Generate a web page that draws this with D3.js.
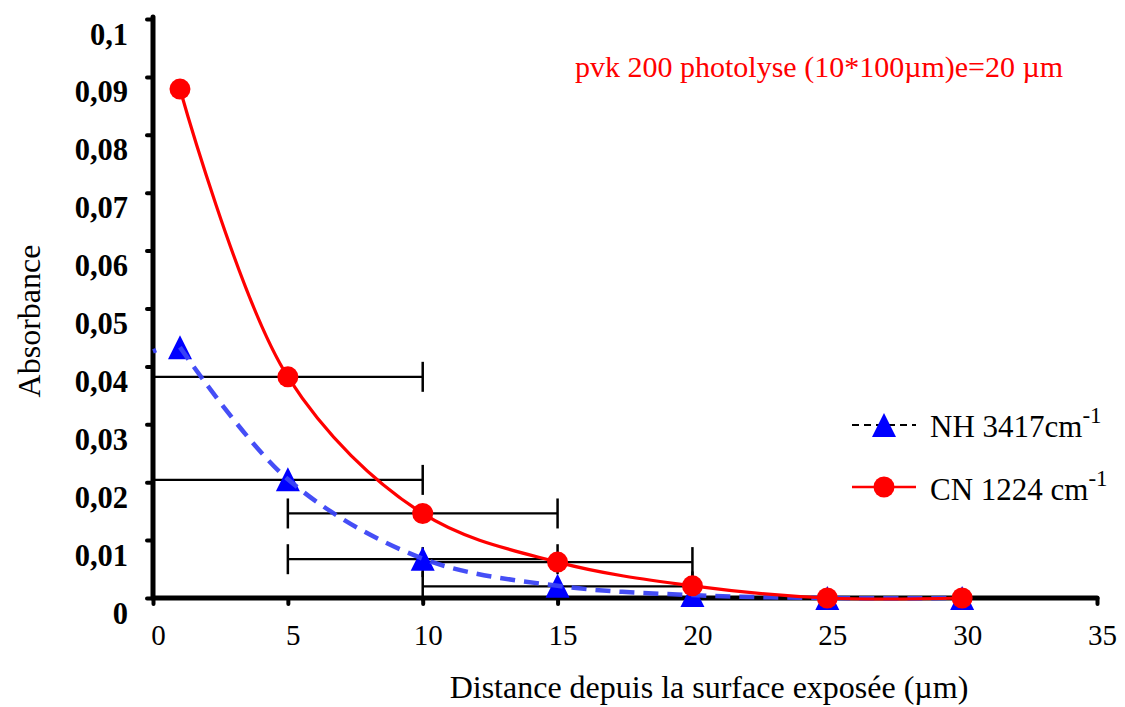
<!DOCTYPE html>
<html>
<head>
<meta charset="utf-8">
<script src="https://cdn.jsdelivr.net/npm/d3@7"></script>
<style>
  html, body { margin: 0; padding: 0; background: #fff; }
  svg { display: block; }
  svg text { font-family: "Liberation Serif", "Times New Roman", Times, "DejaVu Serif", serif; }
</style>
</head>
<body>
<svg id="chart" width="1125" height="707"></svg>
<script>
// ---------- data ----------
const cnX = [1, 5, 10, 15, 20, 25, 30];
const cnY = [0.0879, 0.0382, 0.0146, 0.0062, 0.0021, 0, 0];
const nhX = [1, 5, 10, 15, 20, 25, 30];
const nhY = [0.0433, 0.0205, 0.0068, 0.0021, 0.0005, 0, 0];
// short leading piece of the NH line at the y axis
const nhLeadX = [0, 0.12];
const nhLeadY = [0.0426, 0.0428];
// horizontal error bars
const errX = [5, 10, 15, 5, 10, 15];
const errY = [0.0382, 0.0146, 0.0062, 0.0204, 0.0067, 0.0020];
const errHalf = [5, 5, 5, 5, 5, 5];
const xTicks = [0, 5, 10, 15, 20, 25, 30, 35];
const yTicks = [0, 0.01, 0.02, 0.03, 0.04, 0.05, 0.06, 0.07, 0.08, 0.09, 0.1];
const yTickLabels = ["0", "0,01", "0,02", "0,03", "0,04", "0,05", "0,06", "0,07", "0,08", "0,09", "0,1"];
const xTitle = "Distance depuis la surface exposée (µm)";
const yTitle = "Absorbance";
const noteText = "pvk 200 photolyse (10*100µm)e=20 µm";
const legendNH = ["NH 3417cm", "-1"];
const legendCN = ["CN 1224 cm", "-1"];

// ---------- layout ----------
const svg = d3.select("#chart");
const x = d3.scaleLinear().domain([0, 35]).range([153, 1097]);
const y = d3.scaleLinear().domain([0, 0.1]).range([598, 19]);
const serif = '"Liberation Serif", "Times New Roman", Times, "DejaVu Serif", serif';

// error bars
const eb = svg.append("g").attr("stroke", "#000").attr("fill", "none");
errX.forEach((cx, i) => {
  const yy = y(errY[i]);
  const x0 = x(cx - errHalf[i]), x1 = x(cx + errHalf[i]);
  eb.append("line").attr("x1", x0).attr("x2", x1).attr("y1", yy).attr("y2", yy).attr("stroke-width", 2.2);
  [x0, x1].forEach(xx => {
    eb.append("line").attr("x1", xx).attr("x2", xx).attr("y1", yy - 15).attr("y2", yy + 15).attr("stroke-width", 2.5);
  });
});

// axes
const yAxis = d3.axisLeft(y).tickValues(yTicks).tickSize(6).tickSizeOuter(0)
  .tickFormat((d, i) => yTickLabels[i]);
const gy = svg.append("g").attr("transform", `translate(${x(0)},0)`).call(yAxis);
gy.attr("font-family", null);
gy.select(".domain").remove();
gy.selectAll(".tick line").attr("stroke", "#000").attr("stroke-width", 4).attr("stroke-linecap", "round");
gy.selectAll(".tick text").attr("x", -25).attr("dy", 0).attr("y", 25)
  .style("font-family", serif).attr("font-size", 30.5).attr("font-weight", "bold").attr("fill", "#000");

const xAxis = d3.axisBottom(x).tickValues(xTicks).tickSize(6).tickSizeOuter(0).tickFormat(d => String(d));
const gx = svg.append("g").attr("transform", `translate(0,${y(0)})`).call(xAxis);
gx.attr("font-family", null);
gx.select(".domain").remove();
gx.selectAll(".tick line").attr("stroke", "#000").attr("stroke-width", 4).attr("stroke-linecap", "round");
gx.selectAll(".tick text").attr("y", 47).attr("dy", 0).attr("dx", 5)
  .style("font-family", serif).attr("font-size", 29).attr("fill", "#000");

// axis lines
svg.append("line").attr("x1", x(0)).attr("x2", x(0)).attr("y1", y(0)).attr("y2", y(0.1) - 2)
  .attr("stroke", "#000").attr("stroke-width", 5).attr("stroke-linecap", "round");
svg.append("line").attr("x1", x(0)).attr("x2", x(35)).attr("y1", y(0)).attr("y2", y(0))
  .attr("stroke", "#000").attr("stroke-width", 5).attr("stroke-linecap", "round");

// triangle marker path
function tri(s) {
  const h = s / 2;
  return `M0,${-h}L${h},${h}L${-h},${h}Z`;
}

// NH markers
svg.append("g").selectAll("path").data(nhX.map((d, i) => [d, nhY[i]]))
  .join("path").attr("d", tri(24))
  .attr("transform", d => `translate(${x(d[0])},${y(d[1])})`)
  .attr("fill", "#0000ff");

// NH line
const lineGen = d3.line().x(d => x(d[0])).y(d => y(d[1])).curve(d3.curveCatmullRom.alpha(0.5));
svg.append("path").datum(nhX.map((d, i) => [d, nhY[i]]))
  .attr("d", lineGen).attr("fill", "none")
  .attr("stroke", "#3b45f5").attr("stroke-width", 4.5).attr("stroke-dasharray", "15,9")
  .attr("stroke-opacity", 0.95);
svg.append("path").datum(nhLeadX.map((d, i) => [d, nhLeadY[i]]))
  .attr("d", d3.line().x(d => x(d[0])).y(d => y(d[1]))).attr("fill", "none")
  .attr("stroke", "#3b45f5").attr("stroke-width", 4.5);

// CN line
svg.append("path").datum(cnX.map((d, i) => [d, cnY[i]]))
  .attr("d", lineGen).attr("fill", "none")
  .attr("stroke", "#ff0000").attr("stroke-width", 3.2);

// CN markers
svg.append("g").selectAll("circle").data(cnX.map((d, i) => [d, cnY[i]]))
  .join("circle").attr("cx", d => x(d[0])).attr("cy", d => y(d[1])).attr("r", 10.5)
  .attr("fill", "#ff0000");

// note text
svg.append("text").attr("x", 575).attr("y", 77).text(noteText)
  .style("font-family", serif).attr("font-size", 30).attr("fill", "#ff0000");

// legend
const lg = svg.append("g");
lg.append("line").attr("x1", 852).attr("x2", 916).attr("y1", 425).attr("y2", 425)
  .attr("stroke", "#000").attr("stroke-width", 2).attr("stroke-dasharray", "7,5");
lg.append("path").attr("d", tri(24)).attr("transform", "translate(884,425)").attr("fill", "#0000ff");
lg.append("line").attr("x1", 852).attr("x2", 916).attr("y1", 487).attr("y2", 487)
  .attr("stroke", "#ff0000").attr("stroke-width", 2.5);
lg.append("circle").attr("cx", 884).attr("cy", 487).attr("r", 10.5).attr("fill", "#ff0000");
[[legendNH, 437], [legendCN, 500]].forEach(([t, by]) => {
  const tx = lg.append("text").attr("x", 930).attr("y", by)
    .style("font-family", serif).attr("font-size", 31).attr("fill", "#000");
  tx.append("tspan").text(t[0]);
  tx.append("tspan").text(t[1]).attr("font-size", 23).attr("dy", -14);
});

// axis titles
svg.append("text").attr("x", 709).attr("y", 698).attr("text-anchor", "middle").text(xTitle)
  .style("font-family", serif).attr("font-size", 32).attr("fill", "#000");
svg.append("text").attr("transform", "translate(40,321) rotate(-90)").attr("text-anchor", "middle").text(yTitle)
  .style("font-family", serif).attr("font-size", 32).attr("fill", "#000");
</script>
</body>
</html>
